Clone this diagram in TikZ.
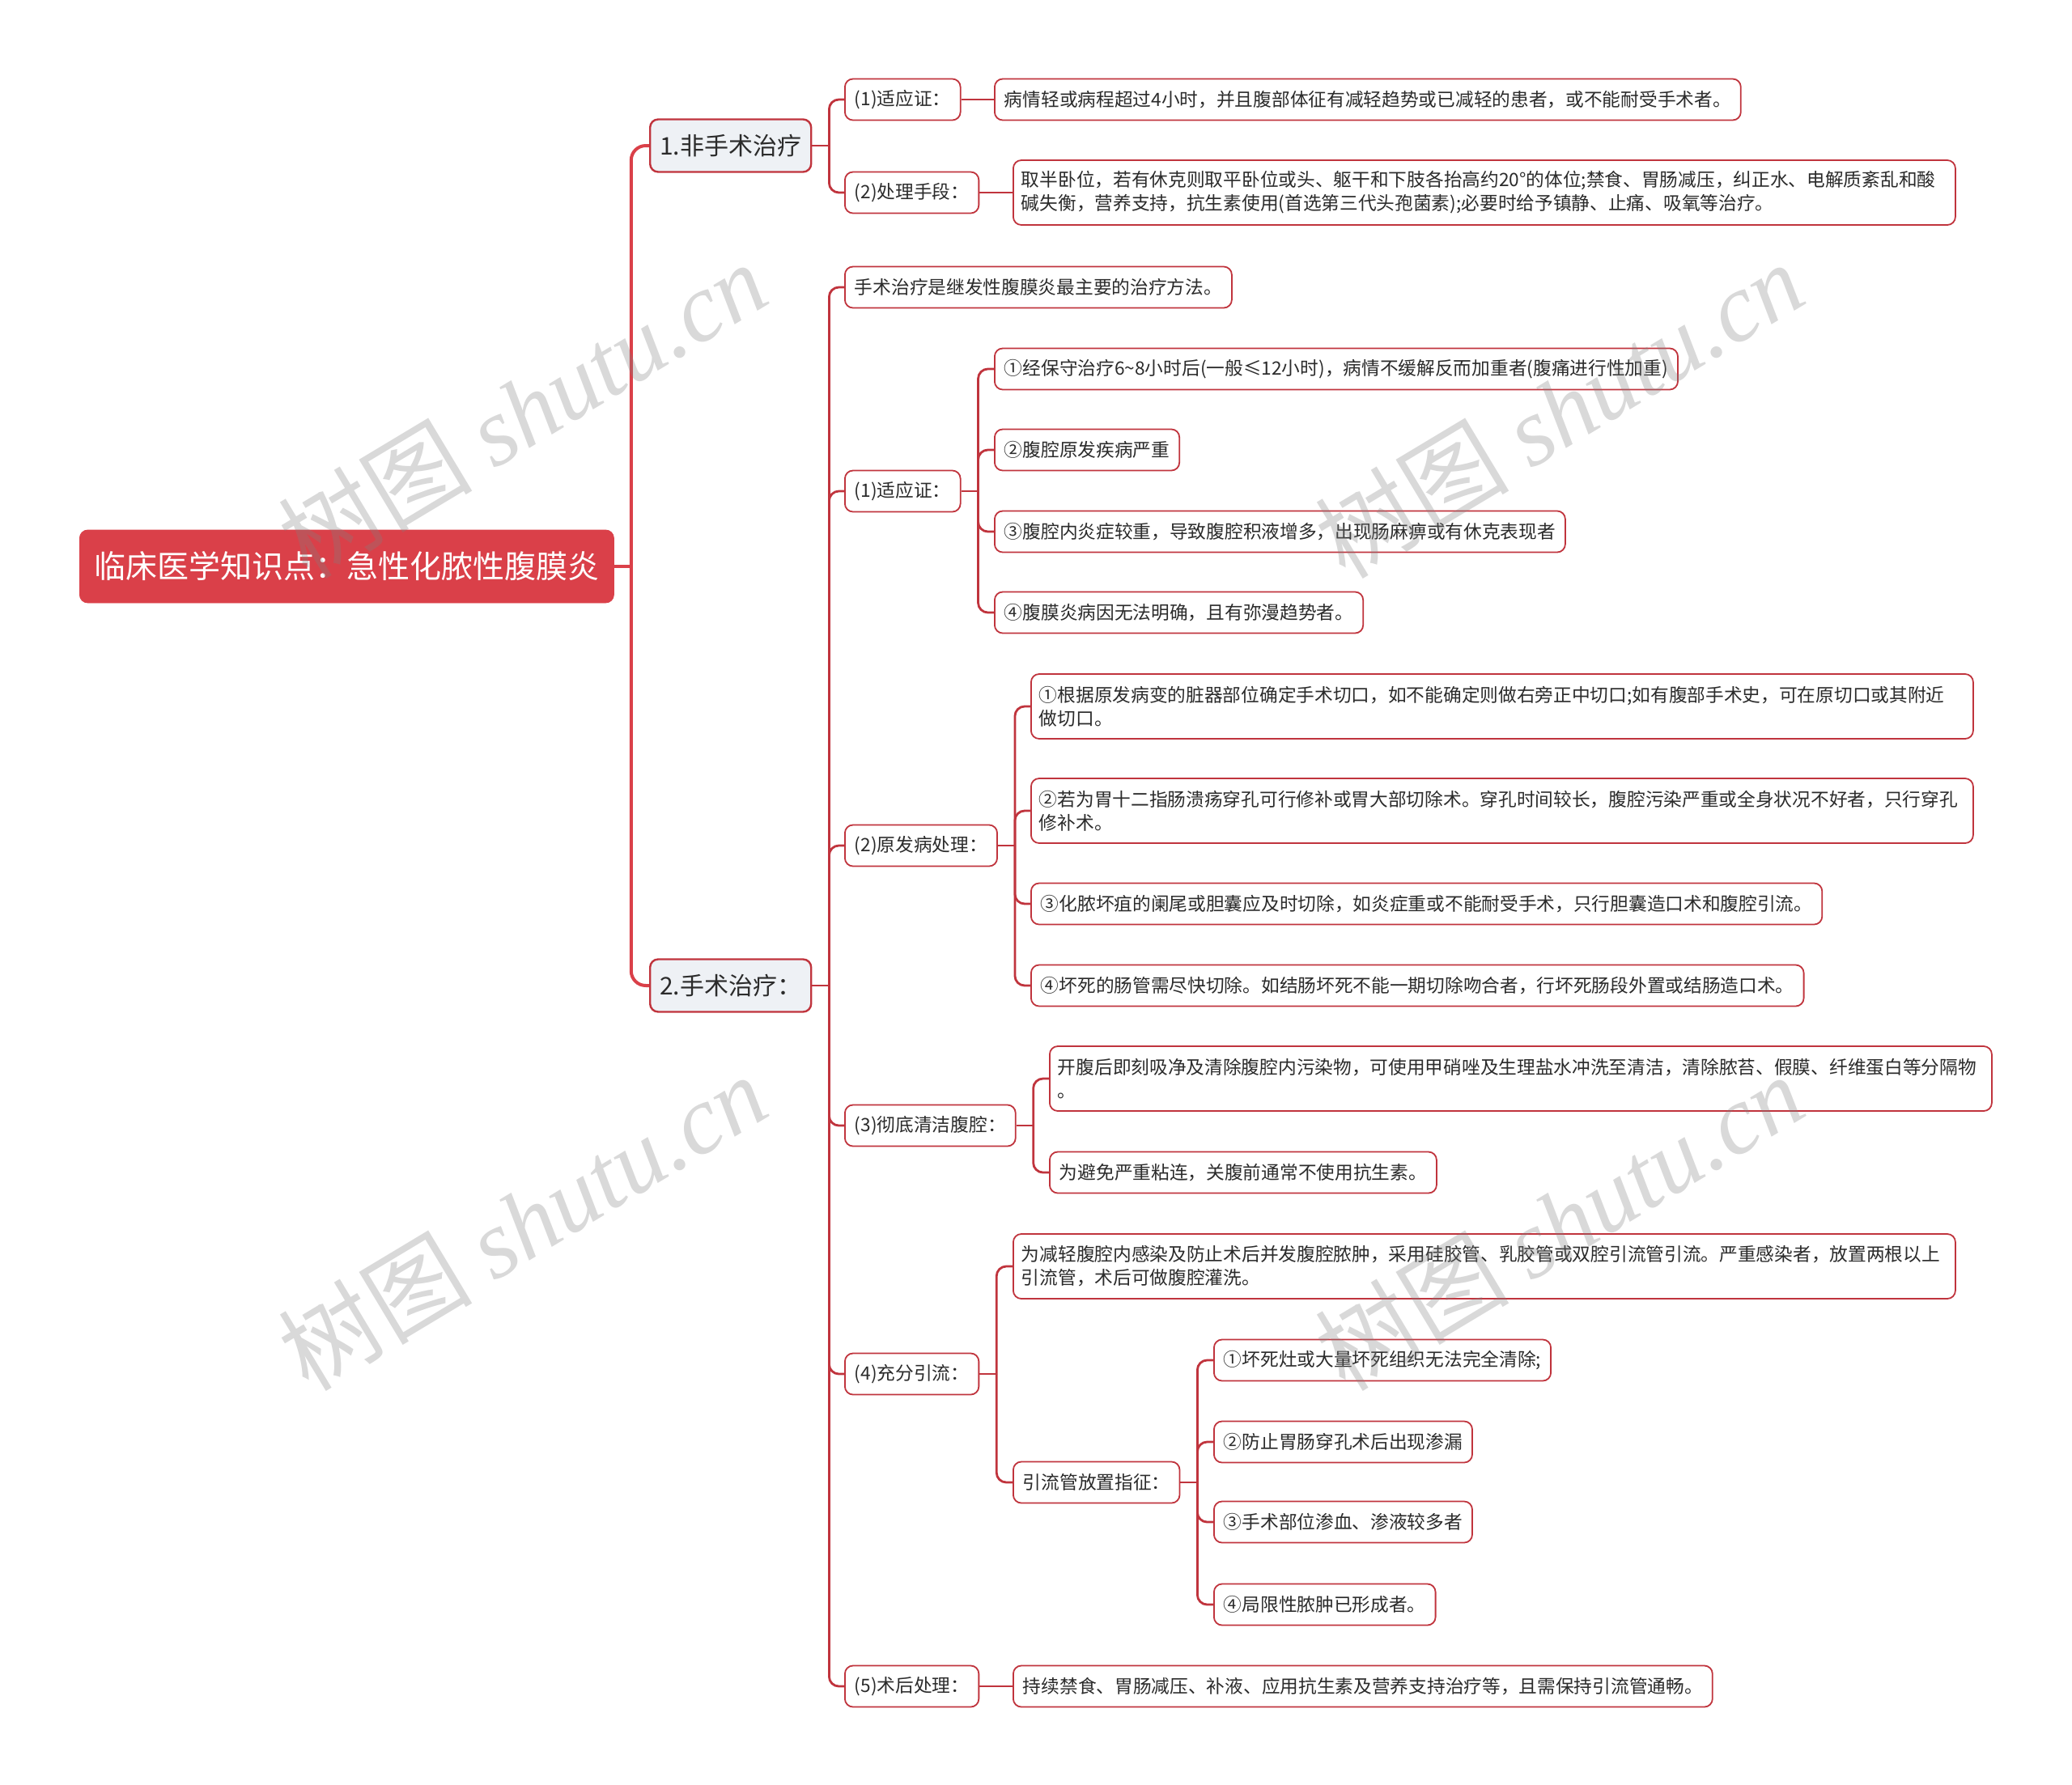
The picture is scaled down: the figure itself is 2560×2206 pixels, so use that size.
\documentclass[tikz,border=0pt]{standalone}
\usepackage{fontspec}
\setmainfont{Noto Sans CJK SC}
\newfontfamily\wmlatin{Liberation Serif}
\usetikzlibrary{positioning}
\definecolor{rootred}{HTML}{DA4049}
\definecolor{linered}{HTML}{C0343D}
\definecolor{topicbg}{HTML}{EEF1F5}
\definecolor{ink}{HTML}{2B2B2B}
\tikzset{
  root/.style={draw=rootred, fill=rootred, rounded corners=5pt, text=white, font=\fontsize{19.5}{23}\selectfont, minimum height=45pt, inner xsep=9pt, anchor=west},
  topic/.style={draw=linered, line width=1.2pt, fill=topicbg, rounded corners=5pt, text=ink, font=\fontsize{15}{18}\selectfont, minimum height=32.5pt, inner xsep=6pt, anchor=west},
  leaf/.style={draw=linered, line width=0.9pt, fill=white, rounded corners=5pt, text=ink, font=\fontsize{11.35}{14.5}\selectfont, minimum height=25.5pt, inner xsep=6pt, anchor=west},
  wide/.style={leaf, text width=572pt, inner xsep=5pt, align=left, minimum height=40pt},
  link/.style={draw=linered, line width=1.4pt, rounded corners=6pt},
  mainlink/.style={draw=rootred, line width=2pt, rounded corners=9pt},
  wmark/.style={text=gray, text opacity=0.3, rotate=31, font=\fontsize{60}{60}\selectfont},
}
\begin{document}
\begin{tikzpicture}[x=0.5pt, y=-0.5pt]
\useasboundingbox (0,0) rectangle (2560,2206);
% root and main branches
\node[root] (root) at (98,700) {临床医学知识点：急性化脓性腹膜炎};
\node[topic] (t1) at (802,180) {1.非手术治疗};
\node[topic] (t2) at (802,1218) {2.手术治疗：};
% non-surgical
\node[leaf] (s1a) at (1043,123) {(1)适应证：};
\node[leaf] (s1b) at (1043,238) {(2)处理手段：};
\node[leaf] (l1a) at (1228,123) {病情轻或病程超过4小时，并且腹部体征有减轻趋势或已减轻的患者，或不能耐受手术者。};
\node[wide] (l1b) at (1251,238) {取半卧位，若有休克则取平卧位或头、躯干和下肢各抬高约20°的体位;禁食、胃肠减压，纠正水、电解质紊乱和酸\\碱失衡，营养支持，抗生素使用(首选第三代头孢菌素);必要时给予镇静、止痛、吸氧等治疗。};
% surgical
\node[leaf] (s2o) at (1043,355) {手术治疗是继发性腹膜炎最主要的治疗方法。};
\node[leaf] (s2a) at (1043,607) {(1)适应证：};
\node[leaf] (a1) at (1228,456) {①经保守治疗6\textasciitilde8小时后(一般≤12小时)，病情不缓解反而加重者(腹痛进行性加重)};
\node[leaf] (a2) at (1228,556) {②腹腔原发疾病严重};
\node[leaf] (a3) at (1228,657) {③腹腔内炎症较重，导致腹腔积液增多，出现肠麻痹或有休克表现者};
\node[leaf] (a4) at (1228,757) {④腹膜炎病因无法明确，且有弥漫趋势者。};
\node[leaf] (s2b) at (1043,1045) {(2)原发病处理：};
\node[wide] (b1) at (1273,873) {①根据原发病变的脏器部位确定手术切口，如不能确定则做右旁正中切口;如有腹部手术史，可在原切口或其附近\\做切口。};
\node[wide] (b2) at (1273,1002) {②若为胃十二指肠溃疡穿孔可行修补或胃大部切除术。穿孔时间较长，腹腔污染严重或全身状况不好者，只行穿孔\\修补术。};
\node[leaf] (b3) at (1273,1117) {③化脓坏疽的阑尾或胆囊应及时切除，如炎症重或不能耐受手术，只行胆囊造口术和腹腔引流。};
\node[leaf] (b4) at (1273,1218) {④坏死的肠管需尽快切除。如结肠坏死不能一期切除吻合者，行坏死肠段外置或结肠造口术。};
\node[leaf] (s2c) at (1043,1391) {(3)彻底清洁腹腔：};
\node[wide] (c1) at (1296,1333) {开腹后即刻吸净及清除腹腔内污染物，可使用甲硝唑及生理盐水冲洗至清洁，清除脓苔、假膜、纤维蛋白等分隔物\\。};
\node[leaf] (c2) at (1296,1449) {为避免严重粘连，关腹前通常不使用抗生素。};
\node[leaf] (s2d) at (1043,1698) {(4)充分引流：};
\node[wide] (d1) at (1251,1565) {为减轻腹腔内感染及防止术后并发腹腔脓肿，采用硅胶管、乳胶管或双腔引流管引流。严重感染者，放置两根以上\\引流管，术后可做腹腔灌洗。};
\node[leaf] (dg) at (1251,1832) {引流管放置指征：};
\node[leaf] (g1) at (1499,1681) {①坏死灶或大量坏死组织无法完全清除;};
\node[leaf] (g2) at (1499,1782) {②防止胃肠穿孔术后出现渗漏};
\node[leaf] (g3) at (1499,1881) {③手术部位渗血、渗液较多者};
\node[leaf] (g4) at (1499,1983) {④局限性脓肿已形成者。};
\node[leaf] (s2e) at (1043,2084) {(5)术后处理：};
\node[leaf] (e1) at (1251,2084) {持续禁食、胃肠减压、补液、应用抗生素及营养支持治疗等，且需保持引流管通畅。};
% connectors
\draw[mainlink] (root.east) -- ++(21,0) coordinate (j0);
\foreach \k in {t1,t2} \draw[mainlink] (j0) |- (\k.west);
\draw[link] (t1.east) -- ++(21,0) coordinate (j1);
\foreach \k in {s1a,s1b} \draw[link] (j1) |- (\k.west);
\draw[link] (s1a) -- (l1a); \draw[link] (s1b) -- (l1b);
\draw[link] (t2.east) -- ++(21,0) coordinate (j2);
\foreach \k in {s2o,s2a,s2b,s2c,s2d,s2e} \draw[link] (j2) |- (\k.west);
\draw[link] (s2a.east) -- ++(21,0) coordinate (ja);
\foreach \k in {a1,a2,a3,a4} \draw[link] (ja) |- (\k.west);
\draw[link] (s2b.east) -- ++(21,0) coordinate (jb);
\foreach \k in {b1,b2,b3,b4} \draw[link] (jb) |- (\k.west);
\draw[link] (s2c.east) -- ++(21,0) coordinate (jc);
\foreach \k in {c1,c2} \draw[link] (jc) |- (\k.west);
\draw[link] (s2d.east) -- ++(21,0) coordinate (jd);
\foreach \k in {d1,dg} \draw[link] (jd) |- (\k.west);
\draw[link] (dg.east) -- ++(21,0) coordinate (jg);
\foreach \k in {g1,g2,g3,g4} \draw[link] (jg) |- (\k.west);
\draw[link] (s2e) -- (e1);
% watermarks
\node[wmark] (wm1) at (645,506) {树图 {\wmlatin\itshape shutu.cn}};
\node[wmark] (wm2) at (1926,506) {树图 {\wmlatin\itshape shutu.cn}};
\node[wmark] (wm3) at (645,1510) {树图 {\wmlatin\itshape shutu.cn}};
\node[wmark] (wm4) at (1926,1510) {树图 {\wmlatin\itshape shutu.cn}};
\end{tikzpicture}
\end{document}
